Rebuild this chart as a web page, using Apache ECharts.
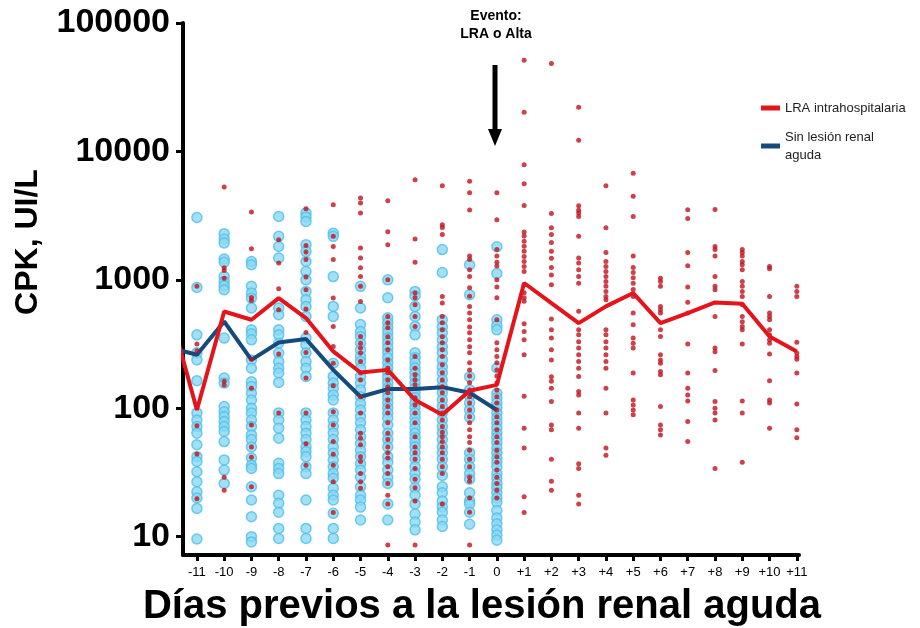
<!DOCTYPE html>
<html><head><meta charset="utf-8">
<script src="https://cdn.jsdelivr.net/npm/echarts@6/dist/echarts.min.js"></script>
<style>html,body{margin:0;background:#fff}#c{width:920px;height:628px}</style>
</head><body><div id="c"></div>
<script>
const days = [-11,-10,-9,-8,-7,-6,-5,-4,-3,-2,-1,0,1,2,3,4,5,6,7,8,9,10,11];
const sinDays = [-11,-10,-9,-8,-7,-6,-5,-4,-3,-2,-1,0];
const yTicks = [10,100,1000,10000,100000];

// Individual CPK values, "Sin lesión renal aguda" (light blue circles), per day
const sinByDay = [
  [3060,873,373,270,238,164,92,81,72,64,52,42,38.5,32,26.8,22.4,20,16.6,9.6],
  [2290,2080,1940,1450,1370,1060,972,900,837,352,172,157,103,94,86,79,72,66,55,39.6,33,26],
  [1390,1310,890,789,721,603,408,380,341,238,205,161,148,131,116,100,92,81,72,62,57,50,41,36,34,24.5,19.3,14.3,10,9.1],
  [3120,2180,1820,1480,603,535,408,373,321,269,231,205,188,159,92,81,70,58.5,37.3,34,31,21,18.2,15.5,11.6,9.7],
  [3320,3090,2850,1880,1660,1390,1160,1000,813,701,621,519,352,312,269,231,205,177,92,81,72,64,57,50,46,42,35,31,19.3,11.6,9.7],
  [2310,2180,1060,621,519,224,177,157,143,127,116,92,81,72,64,57,50,44.7,39.6,35,31,28.5,23.8,21,19.3,15.2,11.6,9.7],
  [890,603,448,396,362,321,285,253,231,205,177,157,139,123,109,97,86,77,68,60,53,47,42,37,33,29,24.5,21,19.3,17,13.5],
  [1000,726,507,463,424,387,354,324,296,270,247,226,206,189,173,158,144,132,121,110,101,92,84,74,64,57,50,42,38,33,29,26,18,13.5],
  [813,752,621,519,434,373,270,247,226,206,189,173,158,144,132,121,110,101,92,84,77,70,64,59,54,50,45,40,35,31,28,24,21,18,15,13,11.3],
  [1720,1140,489,430,387,341,301,270,238,210,189,166,147,132,116,103,92,81,72,64,57,50,45,40,35,30,24.5,22,19,17,15.5,13.5,12],
  [1310,766,176,139,124,110,97,85,45,40,35,31,28,22,19,18,15.5,12.5],
  [1810,1120,489,440,408,206,131,121,110,101,92,84,77,70,64,59,54,49,45,41,38,35,31,28.5,26,24,22,20,18.5,16,14,12.6,11.3,10.3,9.4]
];

// Individual CPK values, "LRA intrahospitalaria" (red dots), per day
const lraByDay = [
  [890,317,280,73,44,19.7],
  [5280,1240,1180,1030,162,152,29,23],
  [3380,1750,729,691,241,143,74,50,41.6,24.5],
  [2050,1350,853,585,264,92],
  [3580,1850,1650,1440,1050,837,592,389,272,172,92,53,36],
  [3850,2180,1820,1440,721,434,303,224,150,94,74,55,43.9,36,26.8,15.4],
  [4340,3970,3320,1770,1480,1240,1060,890,679,362,321,294,269,231,188,166,123,92,64,58.5,52,42,38.5,31,26.8,23.8],
  [4130,2370,1880,1000,519,463,424,360,324,285,238,206,189,166,147,132,116,103,92,77,64,57,50,45,41,35,31,26,21,18,8.6],
  [6030,2080,1370,789,726,640,519,434,253,205,182,166,152,121,106,92,77,60,50,45,40,34,28,24,19,8.6],
  [5410,2690,2560,2250,742,660,519,463,408,360,324,285,253,218,189,166,147,132,116,103,92,81,72,65,60,55,50,45,40,35,31,18],
  [5870,4770,3500,1530,1440,1200,1060,867,745,621,552,489,430,387,341,301,270,226,199,178,158,139,123,110,97,86,77,68,60,54,47,40,35,29,27,20,15.5,8.6],
  [4770,2940,1720,1530,1370,1280,1000,880,726,489,324,285,253,226,199,178,158,139,123,110,97,86,77,68,60,54,47,42,38,33,29,26,23,20],
  [51300,20200,7890,5610,3800,2360,2190,2000,1830,1670,1520,1390,1270,1160,916,795,726,680,455,396,341,261,124,70,49,20.5,15.4],
  [48300,3280,2540,2250,1950,1670,1470,1250,1090,916,495,408,352,285,238,176,162,143,113,74,68,40,27,23],
  [22100,12200,3770,3480,3320,3120,2180,1480,1350,1200,1060,940,570,408,373,330,294,261,231,205,177,135,127,92,70,37,34,21,18],
  [5400,2540,1630,1390,1270,1160,1060,970,890,813,742,700,408,373,330,294,261,231,205,143,92,49,43],
  [6770,4480,3120,1530,1250,1140,1040,940,840,742,551,447,352,321,294,188,116,106,97,89],
  [1030,970,890,621,585,551,408,362,261,238,224,193,182,103,74,68,62],
  [3520,3010,1630,1290,880,670,551,316,188,143,127,114,79,55],
  [3530,1820,1720,1530,1060,890,838,519,294,276,197,113,100,92,81,34],
  [1720,1630,1530,1390,1310,1200,970,890,813,742,640,519,472,434,408,316,114,92,38],
  [1270,1220,742,551,519,489,408,373,341,321,265,164,116,110,70],
  [890,813,742,327,269,253,241,188,108,68,59]
];

// Summary lines
const lraLineDays = [-12,-11,-10,-9,-8,-7,-6,-5,-4,-3,-2,-1,0,1,2,3,4,5,6,7,8,9,10,11];
const lraLine = [574,97,567,489,721,504,277,190,199,116,89,137,152,945,659,460,621,789,460,551,667,652,362,277];
const sinLineDays = [-12,-11,-10,-9,-8,-7,-6,-5,-4,-3,-2,-1,0];
const sinLine = [296,261,474,238,325,346,199,123,141,141,146,132,97];

const LRA_NAME = 'LRA intrahospitalaria';
const SIN_NAME = 'Sin lesión renal aguda';

function pairs(dayList, byDay){ const out=[]; dayList.forEach((d,i)=>byDay[i].forEach(v=>out.push([d,v]))); return out; }
function zip(xs, ys){ return xs.map((x,i)=>[x, ys[i]]); }

const FONT = '"Liberation Sans", Arial, sans-serif';
const chart = echarts.init(document.getElementById('c'));
chart.setOption({
  animation: false,
  backgroundColor: '#fff',
  grid: { left: 183, right: 121, top: 23, bottom: 73 },
  legend: {
    orient: 'vertical', left: 756, top: 94, itemWidth: 19, itemHeight: 5, itemGap: 11, icon: 'rect',
    data: [LRA_NAME, SIN_NAME],
    formatter: n => n === SIN_NAME ? 'Sin lesión renal\naguda' : n,
    textStyle: { fontSize: 13, color: '#222', lineHeight: 18, fontFamily: FONT }
  },
  xAxis: {
    type: 'value', min: -11.51, max: 11.08,
    axisLine: { onZero: false, lineStyle: { color: '#000', width: 4 } },
    axisTick: { customValues: days, length: 6, lineStyle: { color: '#000', width: 3 } },
    axisLabel: { customValues: days, formatter: v => v > 0 ? '+' + v : String(v), fontSize: 13, color: '#000', margin: 11, fontFamily: FONT },
    splitLine: { show: false }
  },
  yAxis: {
    type: 'log', logBase: 10, min: 7.2, max: 100000,
    axisLine: { show: true, onZero: false, lineStyle: { color: '#000', width: 4 } },
    axisTick: { show: true, customValues: yTicks, length: 7, lineStyle: { color: '#000', width: 3 } },
    axisLabel: { customValues: yTicks, formatter: v => String(Math.round(v)), fontSize: 34, fontWeight: 'bold', color: '#000', margin: 13, fontFamily: FONT },
    splitLine: { show: false }
  },
  series: [
    { type: 'scatter', name: 'sinPts', data: pairs(sinDays, sinByDay), symbolSize: 10, z: 2,
      itemStyle: { color: '#8ad8f5', borderColor: '#4fbfea', borderWidth: 1.5 } },
    { type: 'line', name: SIN_NAME, data: zip(sinLineDays, sinLine), showSymbol: false, z: 3,
      lineStyle: { color: '#174a7c', width: 4 }, itemStyle: { color: '#174a7c' } },
    { type: 'scatter', name: 'lraPts', data: pairs(days, lraByDay), symbolSize: 5, z: 4,
      itemStyle: { color: '#c0121e' } },
    { type: 'line', name: LRA_NAME, data: zip(lraLineDays, lraLine), showSymbol: false, z: 5,
      lineStyle: { color: '#e5141b', width: 4 }, itemStyle: { color: '#e5141b' } }
  ],
  graphic: [
    { type: 'text', x: 28, y: 242, rotation: Math.PI / 2,
      style: { text: 'CPK, UI/L', font: 'bold 32px ' + FONT, fill: '#000', align: 'center', verticalAlign: 'middle' } },
    { type: 'text', x: 482, y: 607,
      style: { text: 'Días previos a la lesión renal aguda', font: 'bold 40px ' + FONT, fill: '#000', align: 'center', verticalAlign: 'middle' } },
    { type: 'text', x: 496, y: 25,
      style: { text: 'Evento:\nLRA o Alta', font: 'bold 14px ' + FONT, lineHeight: 18, fill: '#000', align: 'center', verticalAlign: 'middle' } },
    { type: 'line', shape: { x1: 495, y1: 65, x2: 495, y2: 132 }, style: { stroke: '#000', lineWidth: 5 } },
    { type: 'polygon', shape: { points: [[488, 129], [502, 129], [495, 146]] }, style: { fill: '#000' } }
  ]
});
</script></body></html>
